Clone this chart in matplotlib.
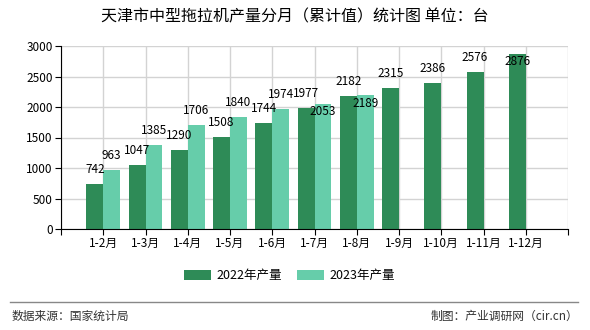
import numpy as np
from matplotlib import pyplot as plt

plt.rcParams['font.family'] = ['Noto Sans CJK SC', 'DejaVu Sans']

months = ['1-2月', '1-3月', '1-4月', '1-5月', '1-6月', '1-7月',
          '1-8月', '1-9月', '1-10月', '1-11月', '1-12月']
output_2022 = [742, 1047, 1290, 1508, 1744, 1977, 2182, 2315, 2386, 2576, 2876]
output_2023 = [963, 1385, 1706, 1840, 1974, 2053, 2189]

dark = '#2e8b57'
light = '#66cdaa'

fig = plt.figure(figsize=(5.9, 3.3), dpi=100)
ax = fig.add_axes([61 / 590, 1 - 229 / 330, 507 / 590, 183 / 330])

x = np.arange(1, len(months) + 1)
w = 0.4
ax.bar(x[:len(output_2022)] - w / 2, output_2022, w, color=dark, label='2022年产量', zorder=2)
ax.bar(x[:len(output_2023)] + w / 2, output_2023, w, color=light, label='2023年产量', zorder=2)

# value labels; a few sit just under the bar top like the original
for i, v in enumerate(output_2022):
    dy = -8 if v > 2800 else 8
    ax.annotate(str(v), (x[i] - w / 2, v), xytext=(0, dy), textcoords='offset pixels',
                ha='center', va='bottom' if dy > 0 else 'center', fontsize=8.5, zorder=3)
for i, v in enumerate(output_2023):
    dy = -8 if i >= 5 else 8
    ax.annotate(str(v), (x[i] + w / 2, v), xytext=(0, dy), textcoords='offset pixels',
                ha='center', va='bottom' if dy > 0 else 'center', fontsize=8.5, zorder=3)

ax.set_xlim(0, len(months) + 1)
ax.set_ylim(0, 3000)
ax.set_yticks(range(0, 3001, 500))
ax.set_xticks(np.arange(0, len(months) + 2))
ax.set_xticklabels([''] + months + [''], fontsize=8.5)
ax.tick_params(axis='y', labelsize=8.5, length=4, pad=2)
ax.tick_params(axis='x', length=4, pad=2)

ax.grid(True, color='#d3d3d3', linewidth=1, zorder=0)
for s in ['top', 'right']:
    ax.spines[s].set_visible(False)
ax.spines['left'].set_color('black')
ax.spines['bottom'].set_color('black')

fig.text(0.5, 1 - 17 / 330, '天津市中型拖拉机产量分月（累计值）统计图 单位：台',
         ha='center', va='center', fontsize=11.5)

fig.legend(loc='center', bbox_to_anchor=(0.49, 1 - 276 / 330), ncol=2, frameon=False,
           fontsize=9, handlelength=2.2, handleheight=0.9, columnspacing=1.2, handletextpad=0.4)

fig.add_artist(plt.Line2D([10 / 590, 578 / 590], [1 - 302 / 330] * 2, color='#888888', linewidth=1))
fig.text(12 / 590, 1 - 316 / 330, '数据来源：国家统计局', ha='left', va='center', fontsize=8.5, color='#333333')
fig.text(578 / 590, 1 - 316 / 330, '制图：产业调研网（cir.cn）', ha='right', va='center', fontsize=8.5, color='#333333')

fig.savefig('out.png', dpi=100)
